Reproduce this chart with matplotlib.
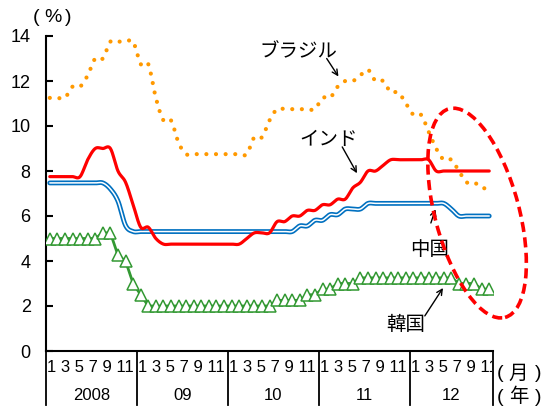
import numpy as np
import matplotlib
matplotlib.use('Agg')
import matplotlib.pyplot as plt
from matplotlib import font_manager
from matplotlib.patches import Ellipse
from matplotlib.transforms import (ScaledTranslation, blended_transform_factory,
                                   Bbox, TransformedBbox)

# monthly policy rates, Jan 2008 .. Nov 2012 (59 months)
brazil = ([11.25] * 3 + [11.75] * 2 + [12.25] + [13.0] * 2 + [13.75] * 4
          + [12.75] * 2 + [11.25] + [10.25] * 2 + [9.25] + [8.75] * 9
          + [9.5] * 2 + [10.25] + [10.75] * 6 + [11.25] * 2 + [11.75]
          + [12.0] * 2 + [12.25] + [12.5] + [12.0] * 2 + [11.5] * 2 + [11.0]
          + [10.5] * 2 + [9.75] + [9.0] + [8.5] * 2 + [8.0] + [7.5] * 2
          + [7.25] * 2)
india = ([7.75] * 5 + [8.5] + [9.0] * 3 + [8.0] + [7.5] + [6.5] + [5.5] * 2
         + [5.0] + [4.75] * 11 + [5.0] + [5.25] * 3 + [5.75] * 2 + [6.0] * 2
         + [6.25] * 2 + [6.5] * 2 + [6.75] * 2 + [7.25] + [7.5] + [8.0] * 2
         + [8.25] + [8.5] * 6 + [8.0] * 8)
china = ([7.47] * 8 + [7.20] + [6.66] + [5.58] + [5.31] * 22 + [5.56] * 2
         + [5.81] * 2 + [6.06] * 2 + [6.31] * 3 + [6.56] * 11 + [6.31]
         + [6.00] * 5)
korea = ([5.0] * 7 + [5.25] * 2 + [4.25] + [4.0] + [3.0] + [2.5] + [2.0] * 17
         + [2.25] * 4 + [2.5] * 2 + [2.75] * 2 + [3.0] * 3 + [3.25] * 13
         + [3.0] * 3 + [2.75] * 2)

years = ['2008', '09', '10', '11', '12']
months_per_year = [12, 12, 12, 12, 11]
month_labels = ['1', '3', '5', '7', '9', '11']
yticks = [0, 2, 4, 6, 8, 10, 12, 14]


def smooth(y, n=16):
    """Catmull-Rom smoothing, like Excel's smoothed line."""
    y = np.asarray(y, dtype=float)
    p = np.concatenate([[y[0]], y, [y[-1]]])
    t = np.linspace(0, 1, n, endpoint=False)
    xs, ys = [], []
    for i in range(len(y) - 1):
        p0, p1, p2, p3 = p[i], p[i + 1], p[i + 2], p[i + 3]
        seg = 0.5 * (2 * p1 + (-p0 + p2) * t
                     + (2 * p0 - 5 * p1 + 4 * p2 - p3) * t ** 2
                     + (-p0 + 3 * p1 - 3 * p2 + p3) * t ** 3)
        xs.append(i + t)
        ys.append(seg)
    xs.append([len(y) - 1])
    ys.append([y[-1]])
    return np.concatenate(xs), np.concatenate(ys)


installed = {f.name for f in font_manager.fontManager.ttflist}
if 'Liberation Sans Narrow' in installed:
    axis_font, axis_size = 'Liberation Sans Narrow', 14
else:
    axis_font, axis_size = 'Liberation Sans', 12
jp = ['Noto Sans CJK JP', 'DejaVu Sans']
plt.rcParams['font.family'] = ['Liberation Sans', 'Noto Sans CJK JP']

fig = plt.figure(figsize=(5.44, 4.09), dpi=100)
ax = fig.add_axes([46 / 544, 1 - 351 / 409, 447 / 544, 315 / 409])

n = len(korea)
x = np.arange(n)

# Korea
ax.plot(x, korea, color='#339933', lw=2.0, marker='^', ms=8,
        mfc='white', mec='#339933', mew=1.1, zorder=3)
# China (double line)
cx, cy = smooth(china)
ax.plot(cx, cy, color='#0070C0', lw=3.5, solid_capstyle='round', zorder=4)
ax.plot(cx, cy, color='white', lw=1.1, solid_capstyle='round', zorder=4)
# India
ix, iy = smooth(india)
ax.plot(ix, iy, color='#FF0000', lw=2.3, solid_capstyle='round', zorder=5)
# Brazil
bx, by = smooth(brazil)
ax.plot(bx, by, color='#FF9900', lw=3.0, linestyle=(0, (0.01, 2.3)),
        dash_capstyle='round', zorder=6)

ax.set_xlim(-0.5, n - 0.5)
ax.set_ylim(0, 14)
ax.set_yticks(yticks)
ax.tick_params(axis='y', direction='in', length=5, width=1.5, pad=11,
               labelsize=13)
ax.tick_params(axis='x', bottom=False, labelbottom=False)
for s in ['top', 'right']:
    ax.spines[s].set_visible(False)
for s in ['left', 'bottom']:
    ax.spines[s].set_linewidth(1.5)
    ax.spines[s].set_color('black')

# category axis: month / year labels and dividers
tr = blended_transform_factory(ax.transData, ax.transAxes)
# month labels of the last (short) year get cut at the axis end
clip = TransformedBbox(Bbox([[0, 0], [492 / 544, 1]]), fig.transFigure)
start = -0.5
for yr, m in zip(years, months_per_year):
    ax.plot([start, start], [0, -0.171], color='black', lw=1.3,
            transform=tr, clip_on=False)
    t = ax.text(start + 0.15, -0.053, ' '.join(month_labels), transform=tr,
                ha='left', va='center', fontsize=axis_size, family=axis_font)
    t.set_clip_box(clip)
    t.set_clip_on(True)
    ax.text(start + m / 2, -0.142, yr, transform=tr, ha='center',
            va='center', fontsize=axis_size, family=axis_font)
    start += m
ax.plot([start, start], [0, -0.171], color='black', lw=1.3,
        transform=tr, clip_on=False)

# unit labels, written with wide-set parentheses
for ypix, word in [(373, '月'), (397, '年')]:
    yf = 1 - ypix / 409
    fig.text(500 / 544, yf, '(', ha='center', va='center', fontsize=14)
    fig.text(518.5 / 544, yf, word, ha='center', va='center', fontsize=14,
             family=jp)
    fig.text(538 / 544, yf, ')', ha='center', va='center', fontsize=14)
fig.text(36 / 544, 1 - 17 / 409, '(', ha='center', va='center', fontsize=14)
fig.text(52.5 / 544, 1 - 17 / 409, '%', ha='center', va='center', fontsize=14)
fig.text(68.5 / 544, 1 - 17 / 409, ')', ha='center', va='center', fontsize=14)

# labels with arrows
arrow = dict(arrowstyle='->', color='black', lw=1.0, shrinkA=0, shrinkB=0)
ax.annotate('', xy=(38.1, 12.2), xytext=(36.55, 13.0), arrowprops=arrow)
ax.text(32.8, 13.3, 'ブラジル', ha='center', va='center', fontsize=14, family=jp)
ax.annotate('', xy=(40.55, 7.9), xytext=(38.6, 9.07), arrowprops=arrow)
ax.text(36.85, 9.42, 'インド', ha='center', va='center', fontsize=14, family=jp)
ax.annotate('', xy=(50.9, 6.3), xytext=(50.3, 5.69), arrowprops=arrow)
ax.text(50.2, 4.53, '中国', ha='center', va='center', fontsize=14, family=jp)
ax.annotate('', xy=(51.9, 2.8), xytext=(49.5, 1.56), arrowprops=arrow)
ax.text(47.0, 1.16, '韓国', ha='center', va='center', fontsize=14, family=jp)

# dashed ellipse around 2012
ell = Ellipse((0, 0), width=0.84, height=2.16, angle=15, fill=False,
              edgecolor='#FF0000', lw=2.6, linestyle=(0, (2.8, 1.5)),
              transform=fig.dpi_scale_trans + ScaledTranslation(56.4, 6.13, ax.transData),
              clip_on=False, zorder=10)
ax.add_patch(ell)

fig.savefig('out.png', dpi=100)
